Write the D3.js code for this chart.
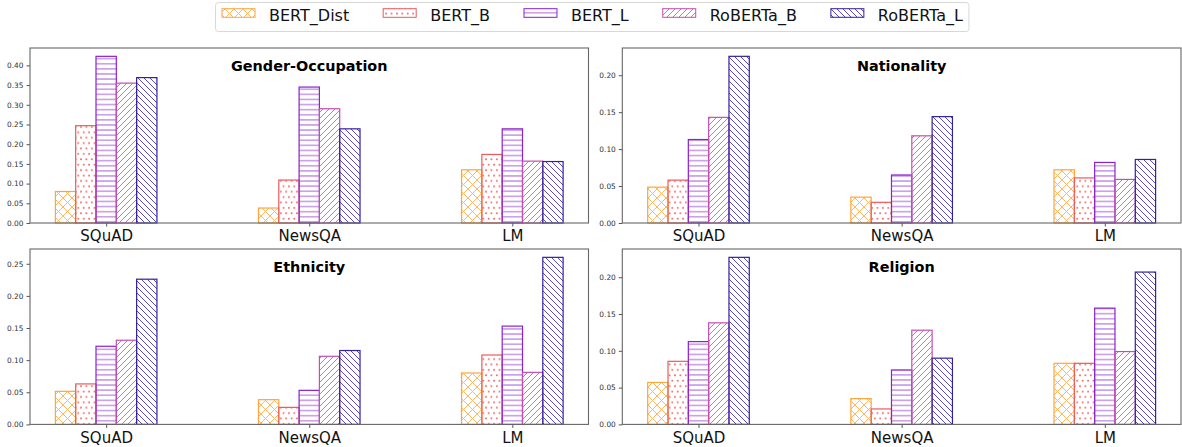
<!DOCTYPE html>
<html><head><meta charset="utf-8">
<script src="https://cdn.jsdelivr.net/npm/d3@7"></script>
<style>body{margin:0;background:#fff}svg{display:block}text{font-family:"DejaVu Sans",sans-serif}</style>
</head><body><svg id="c" width="1182" height="447"></svg>
<script>
const categories = ["SQuAD", "NewsQA", "LM"];
const models = ["BERT_Dist", "BERT_B", "BERT_L", "RoBERTa_B", "RoBERTa_L"];
const panelTitles = ["Gender-Occupation", "Nationality", "Ethnicity", "Religion"];
// rows = models, columns = categories
const genderOccupation = [
  [0.080, 0.038, 0.135],
  [0.247, 0.109, 0.174],
  [0.423, 0.345, 0.239],
  [0.355, 0.290, 0.157],
  [0.369, 0.239, 0.156]
];
const nationality = [
  [0.0485, 0.035, 0.072],
  [0.058, 0.028, 0.061],
  [0.113, 0.065, 0.082],
  [0.143, 0.118, 0.059],
  [0.2256, 0.144, 0.086]
];
const ethnicity = [
  [0.0515, 0.0385, 0.080],
  [0.063, 0.0265, 0.108],
  [0.1216, 0.053, 0.153],
  [0.131, 0.106, 0.081],
  [0.226, 0.115, 0.260]
];
const religion = [
  [0.057, 0.035, 0.083],
  [0.0857, 0.021, 0.083],
  [0.1125, 0.074, 0.158],
  [0.138, 0.128, 0.099],
  [0.227, 0.090, 0.207]
];
const yTicks = [
  [0, 0.05, 0.10, 0.15, 0.20, 0.25, 0.30, 0.35, 0.40],
  [0, 0.05, 0.10, 0.15, 0.20],
  [0, 0.05, 0.10, 0.15, 0.20, 0.25],
  [0, 0.05, 0.10, 0.15, 0.20]
];
const panelData = [genderOccupation, nationality, ethnicity, religion];

const colors = ["#ffa53c", "#ec5b5b", "#8b22cc", "#c84cb4", "#3322a0"];
const hatchColors = ["#ffb860", "#ee6a6a", "#a860dc", "#d070c4", "#5a4cb4"];
const hatchKinds = ["cross", "dots", "horiz", "ne", "nw"];

const svg = d3.select("#c");
const defs = svg.append("defs");

hatchKinds.forEach((k, i) => {
  const c = hatchColors[i];
  const p = defs.append("pattern").attr("id", "hatch" + i).attr("patternUnits", "userSpaceOnUse");
  if (k === "cross") {
    const s = 9;
    p.attr("width", s).attr("height", s);
    p.append("path").attr("d", `M-1,-1L${s+1},${s+1}M-1,${s+1}L${s+1},-1`)
      .attr("stroke", c).attr("stroke-width", 1).attr("fill", "none");
  } else if (k === "dots") {
    const s = 5.4;
    p.attr("width", s).attr("height", s * 2);
    [[s/2, s/2], [0, s*1.5], [s, s*1.5]].forEach(([x, y]) =>
      p.append("rect").attr("x", x - 0.85).attr("y", y - 0.85).attr("width", 1.7).attr("height", 1.7)
        .attr("fill", c));
  } else if (k === "horiz") {
    const s = 5.1;
    p.attr("width", 10).attr("height", s);
    p.append("path").attr("d", `M0,${s/2}L10,${s/2}`).attr("stroke", c).attr("stroke-width", 1);
  } else {
    const s = 6;
    p.attr("width", s).attr("height", s);
    const d = k === "ne"
      ? `M-1,${s+1}L${s+1},-1M-1,1L1,-1M${s-1},${s+1}L${s+1},${s-1}`
      : `M-1,-1L${s+1},${s+1}M${s-1},-1L${s+1},1M-1,${s-1}L1,${s+1}`;
    p.append("path").attr("d", d).attr("stroke", c).attr("stroke-width", 1).attr("fill", "none");
  }
});

const cols = [[30, 588.5], [622.3, 1181]];
const rows = [[48, 223], [249, 424.4]];

panelData.forEach((data, pi) => {
  const [x0, x1] = cols[pi % 2];
  const [y0, y1] = rows[Math.floor(pi / 2)];
  const g = svg.append("g");
  const x = d3.scaleLinear().domain([-0.375, 2.375]).range([x0, x1]);
  const maxV = d3.max(data, r => d3.max(r));
  const y = d3.scaleLinear().domain([0, maxV * 1.05]).range([y1, y0]);
  const bw = 0.1;

  data.forEach((vals, mi) => {
    g.selectAll(null).data(vals).enter().append("rect")
      .attr("x", (d, ci) => x(ci + (mi - 2) * bw - bw / 2))
      .attr("width", x(bw) - x(0))
      .attr("y", d => y(d))
      .attr("height", d => y(0) - y(d))
      .attr("fill", `url(#hatch${mi})`)
      .attr("stroke", colors[mi]).attr("stroke-width", 1.2);
  });

  const ya = g.append("g").attr("transform", `translate(${x0},0)`)
    .call(d3.axisLeft(y).tickValues(yTicks[pi]).tickFormat(d3.format(".2f")).tickSize(3.5).tickPadding(3));
  ya.select(".domain").remove();
  ya.selectAll("line").attr("stroke", "#555");
  ya.selectAll("text").attr("font-size", "7.4px").attr("fill", "#333").style("font-family", "DejaVu Sans");

  const xa = g.append("g").attr("transform", `translate(0,${y1})`)
    .call(d3.axisBottom(x).tickValues([0, 1, 2]).tickFormat(i => categories[i]).tickSize(3.5).tickPadding(4));
  xa.select(".domain").remove();
  xa.selectAll("line").attr("stroke", "#555");
  xa.selectAll("text").attr("font-size", "15px").attr("fill", "#111").style("font-family", "DejaVu Sans");

  g.append("rect").attr("x", x0).attr("y", y0).attr("width", x1 - x0).attr("height", y1 - y0)
    .attr("fill", "none").attr("stroke", "#666").attr("stroke-width", 1.1);

  g.append("text").attr("x", (x0 + x1) / 2).attr("y", y0 + 22.5)
    .attr("text-anchor", "middle").attr("font-weight", "bold").attr("font-size", "14.4px").attr("fill", "#000")
    .text(panelTitles[pi]);
});

const lg = svg.append("g");
const frame = lg.append("rect").attr("x", 215.5).attr("y", 2.5).attr("height", 29).attr("rx", 3)
  .attr("fill", "#fff").attr("stroke", "#d8d8d8").attr("stroke-width", 1);
let lx = 222;
models.forEach((m, i) => {
  lg.append("rect").attr("x", lx).attr("y", 8.7).attr("width", 33).attr("height", 8.6)
    .attr("fill", `url(#hatch${i})`).attr("stroke", colors[i]).attr("stroke-width", 1);
  const t = lg.append("text").attr("x", lx + 47).attr("y", 21).attr("font-size", "16px").attr("fill", "#111").text(m);
  lx = lx + 47 + t.node().getComputedTextLength() + 34;
});
frame.attr("width", lx - 34 - 215.5 + 6);
</script></body></html>
